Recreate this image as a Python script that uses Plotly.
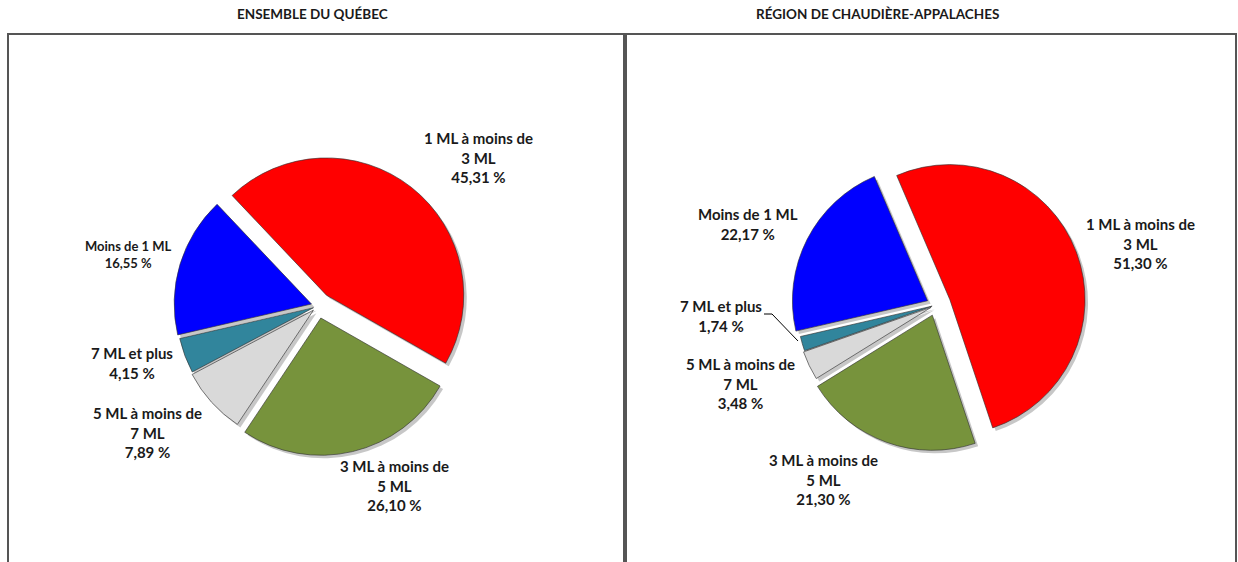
import plotly.graph_objects as go

W, H = 1238, 562

# data
categories = ["Moins de 1 ML", "1 ML à moins de 3 ML", "3 ML à moins de 5 ML",
              "5 ML à moins de 7 ML", "7 ML et plus"]
quebec_pct = [16.55, 45.31, 26.10, 7.89, 4.15]
chaudiere_pct = [22.17, 51.30, 21.30, 3.48, 1.74]
titles = ["ENSEMBLE DU QUÉBEC", "RÉGION DE CHAUDIÈRE-APPALACHES"]

colors = ["#0000FF", "#FF0000", "#77933C", "#D9D9D9", "#31859C"]
font = "Lato"


def px_x(x):
    return x / W


def px_y(y):
    return 1 - y / H


def label_text(cat, v):
    cat = cat.replace("à moins de ", "à moins de<br>")
    return cat + "<br>" + f"{v:.2f}".replace(".", ",") + " %"


# pie layout in pixels: centre, half box size, pulls, label spots (same order as categories)
pies = [
    dict(values=quebec_pct, cx=318, cy=306, half=151,
         pull=[0.05, 0.10, 0.09, 0.045, 0.035],
         labels_at=[(128, 254), (478, 157), (394, 485), (147, 432), (132, 363)],
         sizes=[13, 15, 15, 15, 15]),
    dict(values=chaudiere_pct, cx=936, cy=305, half=150,
         pull=[0.07, 0.11, 0.08, 0.04, 0.03],
         labels_at=[(748, 224), (1140, 244), (823, 479), (740, 383), (721, 316)],
         sizes=[15, 15, 15, 15, 15]),
]

fig = go.Figure()
annotations = []
shapes = []

for p in pies:
    # drop shadow
    sh = 3
    fig.add_trace(go.Pie(
        labels=categories, values=p["values"], sort=False, direction="clockwise",
        rotation=257, pull=p["pull"], textinfo="none", hoverinfo="skip",
        marker=dict(colors=["rgba(0,0,0,0.22)"] * 5, line=dict(width=0)),
        domain=dict(x=[px_x(p["cx"] - p["half"] + sh), px_x(p["cx"] + p["half"] + sh)],
                    y=[px_y(p["cy"] + p["half"] + sh), px_y(p["cy"] - p["half"] + sh)]),
        showlegend=False,
    ))
    fig.add_trace(go.Pie(
        labels=categories, values=p["values"], sort=False, direction="clockwise",
        rotation=257, pull=p["pull"], textinfo="none",
        marker=dict(colors=colors, line=dict(color="rgba(50,50,50,0.8)", width=0.8)),
        domain=dict(x=[px_x(p["cx"] - p["half"]), px_x(p["cx"] + p["half"])],
                    y=[px_y(p["cy"] + p["half"]), px_y(p["cy"] - p["half"])]),
        showlegend=False,
    ))
    for cat, v, (lx, ly), fs in zip(categories, p["values"], p["labels_at"], p["sizes"]):
        annotations.append(dict(
            x=px_x(lx), y=px_y(ly), xref="paper", yref="paper",
            text="<b>" + label_text(cat, v) + "</b>", showarrow=False,
            xanchor="center", yanchor="middle", align="center",
            font=dict(family=font, size=fs, color="#1a1a1a"),
        ))

# chart frames
for x0, x1 in [(8, 624), (626, 1236)]:
    shapes.append(dict(type="rect", xref="paper", yref="paper",
                       x0=px_x(x0), x1=px_x(x1), y0=-0.1, y1=px_y(34),
                       line=dict(color="#555555", width=2), fillcolor="rgba(0,0,0,0)"))

# leader line for small slice
shapes.append(dict(type="path", xref="paper", yref="paper",
                   path=f"M {px_x(764)},{px_y(314)} L {px_x(772)},{px_y(314)} L {px_x(798)},{px_y(341)}",
                   line=dict(color="#000000", width=1)))

for t, x in zip(titles, [312, 877]):
    annotations.append(dict(
        x=px_x(x), y=px_y(14), xref="paper", yref="paper", text="<b>" + t + "</b>",
        showarrow=False, xanchor="center", yanchor="middle",
        font=dict(family=font, size=13.5, color="#1a1a1a"),
    ))

fig.update_layout(
    width=W, height=H,
    margin=dict(l=0, r=0, t=0, b=0),
    paper_bgcolor="white",
    plot_bgcolor="white",
    annotations=annotations,
    shapes=shapes,
)

fig.write_html("out.html", config={"displayModeBar": False},
               post_script="document.body.style.margin = '0';")
